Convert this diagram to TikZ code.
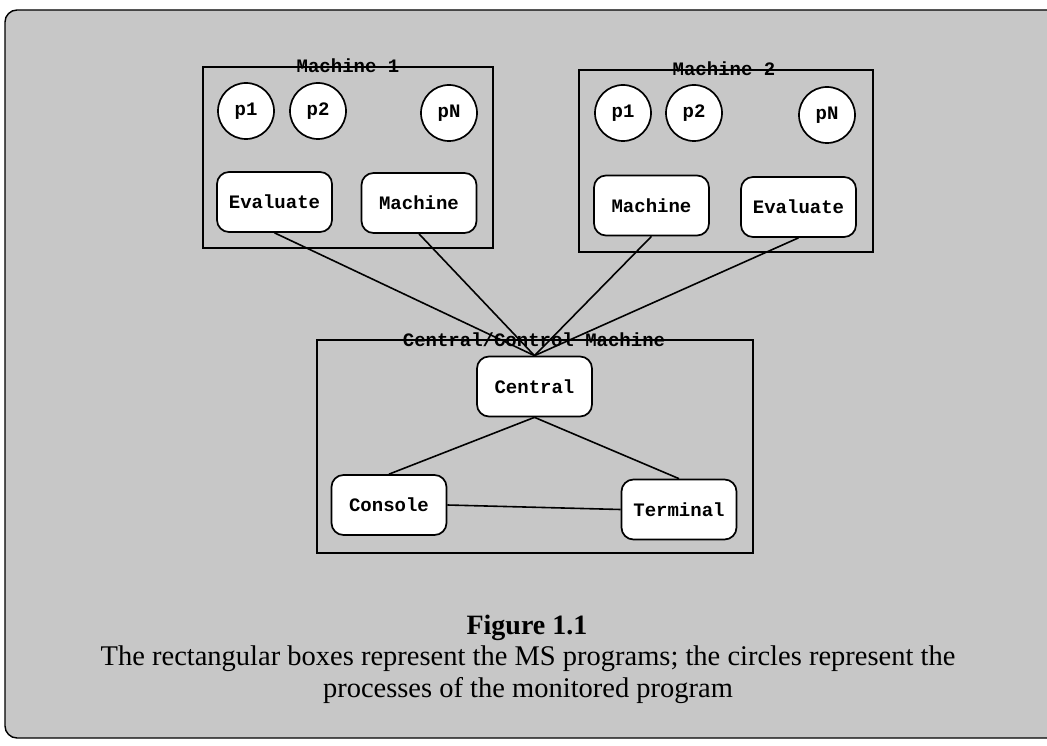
\documentclass[tikz,border=0pt]{standalone}
\usepackage{fontspec}
\setmainfont{Liberation Serif}
\newfontfamily\boxfont{Liberation Mono}
\begin{document}
\begin{tikzpicture}[x=1pt,y=-1pt,
  frame/.style={draw=black,line width=1.4pt},
  frametitle/.style={font=\boxfont\bfseries\fontsize{19}{20}\selectfont,inner sep=0pt,anchor=center},
  proc/.style={circle,draw=black,fill=white,line width=1.7pt,minimum size=56pt,inner sep=0pt,
    font=\boxfont\bfseries\fontsize{19}{20}\selectfont},
  prog/.style={draw=black,fill=white,rounded corners=12pt,line width=1.7pt,minimum width=115pt,
    minimum height=60pt,inner sep=0pt,font=\boxfont\bfseries\fontsize{19}{20}\selectfont},
  link/.style={draw=black,line width=1.6pt}]
\useasboundingbox (0,0) rectangle (1047,746);
% page backdrop
\fill[black!22,draw=black,line width=1.4pt,rounded corners=12pt] (5,10) rectangle (1070,738);

% Machine 1
\draw[frame] (203,67) rectangle (493,248);
\node[frametitle] (t1) at (348,66) {Machine 1};
\node[proc] (a1) at (246,111) {p1};
\node[proc] (a2) at (318,111) {p2};
\node[proc] (aN) at (449,113) {pN};
\node[prog] (ev1) at (274.5,202) {Evaluate};
\node[prog] (ma1) at (419,203) {Machine};

% Machine 2
\draw[frame] (579,70) rectangle (873,252);
\node[frametitle] (t2) at (724,69) {Machine 2};
\node[proc] (b1) at (623,113) {p1};
\node[proc] (b2) at (694,113) {p2};
\node[proc] (bN) at (827,115) {pN};
\node[prog] (ma2) at (651.5,205.5) {Machine};
\node[prog] (ev2) at (798.5,207) {Evaluate};

% Central/Control machine
\draw[frame] (317,340) rectangle (753,553);
\node[frametitle] (t3) at (534,340) {Central/Control Machine};
\node[prog] (cen) at (534.5,386.5) {Central};
\node[prog] (con) at (389,505) {Console};
\node[prog] (ter) at (679,509.5) {Terminal};

% connections
\draw[link] (ev1.south) -- (cen.north);
\draw[link] (ma1.south) -- (cen.north);
\draw[link] (ma2.south) -- (cen.north);
\draw[link] (ev2.south) -- (cen.north);
\draw[link] (cen.south) -- (con.north);
\draw[link] (cen.south) -- (ter.north);
\draw[link] (con.east) -- (ter.west);

% caption
\node[font=\bfseries\fontsize{28}{30}\selectfont,inner sep=0pt] (cap1) at (527,628) {Figure 1.1};
\node[font=\fontsize{28.5}{32}\selectfont,inner sep=0pt,align=center] (cap2) at (528,675)
  {The rectangular boxes represent the MS programs; the circles represent the\\
   processes of the monitored program};
\end{tikzpicture}
\end{document}
